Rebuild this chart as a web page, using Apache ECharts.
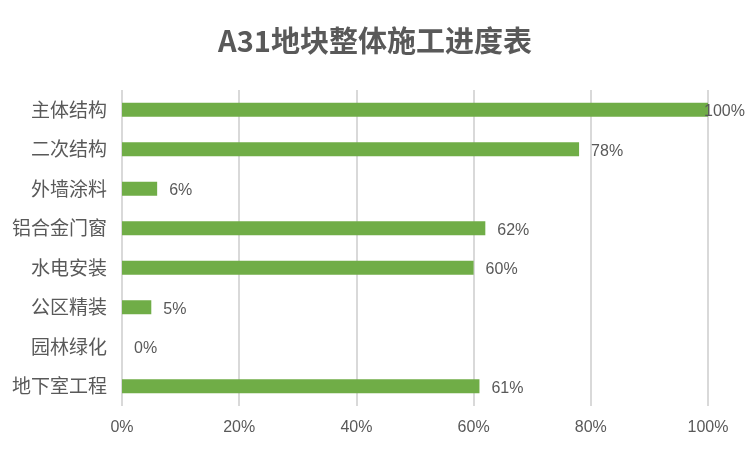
<!DOCTYPE html>
<html><head><meta charset="utf-8">
<script src="https://cdn.jsdelivr.net/npm/echarts@6/dist/echarts.min.js"></script>
<style>html,body{margin:0;padding:0;background:#fff}#c{width:750px;height:449px}</style>
</head><body><div id="c"></div>
<script>
const categories = ['主体结构','二次结构','外墙涂料','铝合金门窗','水电安装','公区精装','园林绿化','地下室工程'];
const progress = [100, 78, 6, 62, 60, 5, 0, 61];
const xTicks = [0, 20, 40, 60, 80, 100];

const chart = echarts.init(document.getElementById('c'));
const numFont = '"Liberation Sans Narrow","Liberation Sans",sans-serif';
chart.setOption({
  animation: false,
  title: {
    text: 'A31地块整体施工进度表',
    left: 'center', top: 21,
    textStyle: {fontSize: 29, fontWeight: 'bold', color: '#595959', fontFamily: '"Noto Sans CJK SC",sans-serif'}
  },
  grid: {left: 122, right: 42, top: 90, bottom: 43, containLabel: false},
  xAxis: {
    type: 'value', min: 0, max: 100, interval: 20,
    axisLine: {show: false}, axisTick: {show: false},
    splitLine: {lineStyle: {color: '#d9d9d9', width: 2}},
    axisLabel: {formatter: v => v + '%', color: '#595959', fontSize: 16, margin: 14, fontFamily: numFont}
  },
  yAxis: {
    type: 'category', data: categories, inverse: true,
    axisLine: {show: false}, axisTick: {show: false},
    axisLabel: {color: '#595959', fontSize: 19, margin: 15, fontFamily: '"Noto Sans CJK SC",sans-serif'}
  },
  series: [{
    type: 'bar', barWidth: 14,
    itemStyle: {color: '#70ad47'},
    label: {show: true, position: 'right', distance: 12, offset: [0, 2], formatter: p => p.value + '%',
      color: '#595959', fontSize: 16, fontFamily: numFont},
    data: progress.map(v => v >= 100 ? {value: v, label: {distance: -4}} : v)
  }]
});
</script></body></html>
